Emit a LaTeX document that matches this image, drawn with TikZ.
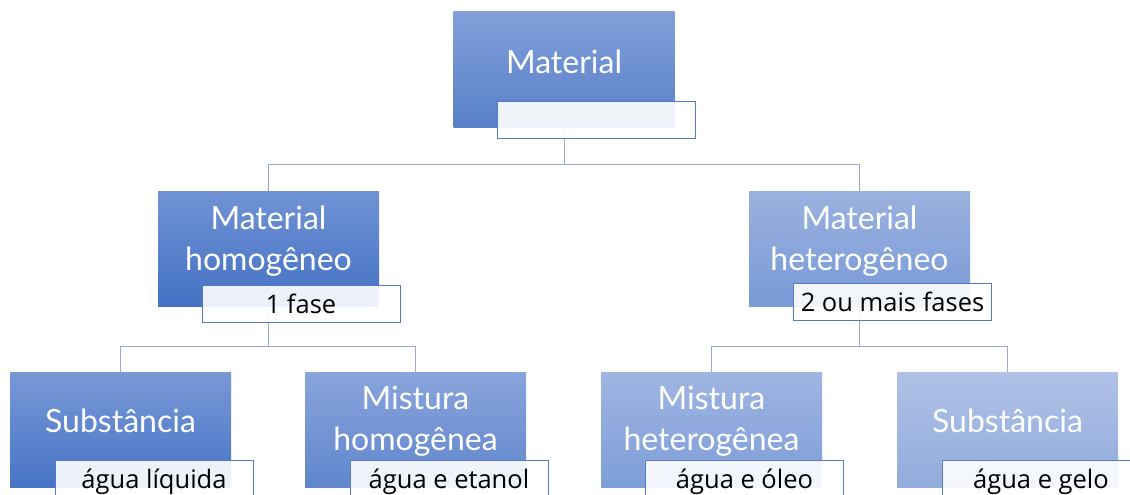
\documentclass[tikz,border=0pt]{standalone}
\usepackage{fontspec}
\setmainfont{Lato}
\newfontfamily\lblfont{Open Sans}
\definecolor{conncol}{RGB}{150,170,215}
\definecolor{lblborder}{RGB}{88,122,198}
\begin{document}
\begin{tikzpicture}[x=1pt,y=-1pt,
  box/.style={minimum width=221pt,minimum height=115pt,inner sep=0pt,draw=none,
    text=white,align=center,font=\fontsize{32}{41}\selectfont},
  boxtext/.style={inner sep=0pt,text=white,align=center,font=\fontsize{32}{41}\selectfont},
  lbl/.style={minimum width=198pt,minimum height=37pt,inner sep=0pt,
    draw=lblborder,line width=1pt,fill=white,fill opacity=0.9,text opacity=1,
    font=\lblfont\fontsize{25.5}{30}\selectfont},
  lbltext/.style={anchor=base,inner sep=0pt,font=\lblfont\fontsize{25.5}{30}\selectfont},
  conn/.style={draw=conncol,line width=1pt}]
\useasboundingbox (0,0) rectangle (1130,495);
% main boxes
\node[box,top color={rgb,255:red,130;green,159;blue,218},bottom color={rgb,255:red,88;green,128;blue,200}] (mat) at (564,69.5) {};
\node[box,top color={rgb,255:red,112;green,146;blue,213},bottom color={rgb,255:red,68;green,114;blue,196}] (hom) at (268.5,249) {};
\node[box,top color={rgb,255:red,155;green,177;blue,223},bottom color={rgb,255:red,120;green,154;blue,214}] (het) at (859.5,249) {};
\node[box,top color={rgb,255:red,120;green,152;blue,214},bottom color={rgb,255:red,72;green,116;blue,198}] (sub1) at (120.5,429.5) {};
\node[box,top color={rgb,255:red,137;green,164;blue,219},bottom color={rgb,255:red,96;green,134;blue,205}] (mhom) at (415.5,429.5) {};
\node[box,top color={rgb,255:red,160;green,181;blue,227},bottom color={rgb,255:red,125;green,158;blue,215}] (mhet) at (711.5,429.5) {};
\node[box,top color={rgb,255:red,176;green,193;blue,230},bottom color={rgb,255:red,145;green,172;blue,220}] (sub2) at (1007.5,429.5) {};
% texts
\node[boxtext] (tmat) at (564,62) {Material};
\node[boxtext] (thom) at (268.5,241) {Material\\homogêneo};
\node[boxtext] (thet) at (859.5,241) {Material\\heterogêneo};
\node[boxtext] (tsub1) at (120.5,421) {Substância};
\node[boxtext] (tmhom) at (415.5,421) {Mistura\\homogênea};
\node[boxtext] (tmhet) at (711.5,421) {Mistura\\heterogênea};
\node[boxtext] (tsub2) at (1007.5,421) {Substância};
% connectors
\coordinate (j1) at (564,164);
\coordinate (j2) at (268.5,346);
\coordinate (j3) at (859.5,346);
\draw[conn] (mat.south) -- (j1) -| (hom.north);
\draw[conn] (j1) -| (het.north);
\draw[conn] (hom.south) -- (j2) -| (sub1.north);
\draw[conn] (j2) -| (mhom.north);
\draw[conn] (het.south) -- (j3) -| (mhet.north);
\draw[conn] (j3) -| (sub2.north);
% labels
\node[lbl] (lmat) at (596.5,119.5) {};
\node[lbl] (lhom) at (301,303.5) {1 fase};
\node[lbl] (lhet) at (892.5,301.5) {2 ou mais fases};
\node[lbl,minimum height=70pt] (lsub1) at (154,495) {};
\node[lbltext] (tlsub1) at (154,488) {água líquida};
\node[lbl,minimum height=70pt] (lmhom) at (449,495) {};
\node[lbltext] (tlmhom) at (449,488) {água e etanol};
\node[lbl,minimum height=70pt] (lmhet) at (744.5,495) {};
\node[lbltext] (tlmhet) at (744.5,488) {água e óleo};
\node[lbl,minimum height=70pt] (lsub2) at (1041,495) {};
\node[lbltext] (tlsub2) at (1041,488) {água e gelo};
\end{tikzpicture}
\end{document}
